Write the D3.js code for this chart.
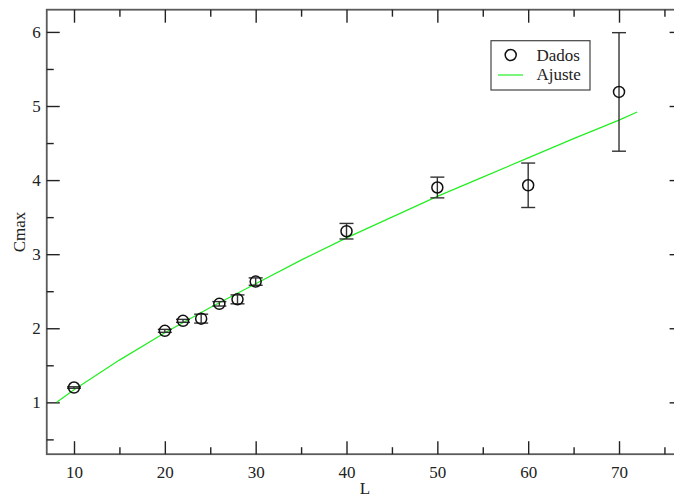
<!DOCTYPE html>
<html><head><meta charset="utf-8">
<script src="https://cdn.jsdelivr.net/npm/d3@7"></script>
<style>body{margin:0;background:#fff}svg{display:block}</style>
</head><body><svg id="c" width="674" height="497"></svg>
<script>
// Data
const L = [10, 20, 22, 24, 26, 28, 30, 40, 50, 60, 70];
const Cmax = [1.20, 1.965, 2.10, 2.13, 2.33, 2.39, 2.63, 3.31, 3.90, 3.93, 5.19];
const errCmax = [0.01, 0.02, 0.02, 0.06, 0.03, 0.06, 0.05, 0.105, 0.14, 0.30, 0.80];
const fitL = [8.1, 10, 15, 20, 25, 30, 35, 40, 45, 50, 55, 60, 65, 70, 72];
const fitC = [1.00, 1.17, 1.57, 1.94, 2.28, 2.60, 2.92, 3.22, 3.50, 3.78, 4.04, 4.30, 4.56, 4.81, 4.92];
const xMajor = [10, 20, 30, 40, 50, 60, 70];
const xMinor = [15, 25, 35, 45, 55, 65, 75];
const yMajor = [1, 2, 3, 4, 5, 6];
const yMinor = [0.5, 1.5, 2.5, 3.5, 4.5, 5.5];
const legendLabels = ["Dados", "Ajuste"];

const svg = d3.select("#c");
const x = d3.scaleLinear().domain([7, 77]).range([46.75, 682.6]);
const y = d3.scaleLinear().domain([0.3, 6.3]).range([454.2, 9.7]);
const X0 = x.range()[0], X1 = x.range()[1], Y0 = y.range()[0], Y1 = y.range()[1];
const axisCol = "#5a5a5a";
const FONT = "'Liberation Serif', 'Times New Roman', serif";
const FS = "17px";

svg.append("rect").attr("width", 674).attr("height", 497).attr("fill", "#fff");

// frame
svg.append("rect").attr("x", X0).attr("y", Y1).attr("width", X1 - X0).attr("height", Y0 - Y1)
  .attr("fill", "none").attr("stroke", axisCol).attr("stroke-width", 1.8);

const fmt = d3.format("d");
const gB = svg.append("g").attr("transform", `translate(0,${Y0})`)
  .call(d3.axisBottom(x).tickValues(xMajor).tickFormat(fmt).tickSizeInner(-13).tickSizeOuter(0).tickPadding(12));
const gBm = svg.append("g").attr("transform", `translate(0,${Y0})`)
  .call(d3.axisBottom(x).tickValues(xMinor).tickFormat("").tickSizeInner(-7).tickSizeOuter(0));
const gT = svg.append("g").attr("transform", `translate(0,${Y1})`)
  .call(d3.axisTop(x).tickValues(xMajor).tickFormat("").tickSizeInner(-13).tickSizeOuter(0));
const gTm = svg.append("g").attr("transform", `translate(0,${Y1})`)
  .call(d3.axisTop(x).tickValues(xMinor).tickFormat("").tickSizeInner(-7).tickSizeOuter(0));
const gL = svg.append("g").attr("transform", `translate(${X0},0)`)
  .call(d3.axisLeft(y).tickValues(yMajor).tickFormat(fmt).tickSizeInner(-13).tickSizeOuter(0).tickPadding(6));
const gLm = svg.append("g").attr("transform", `translate(${X0},0)`)
  .call(d3.axisLeft(y).tickValues(yMinor).tickFormat("").tickSizeInner(-7).tickSizeOuter(0));
const gR = svg.append("g").attr("transform", `translate(${X1},0)`)
  .call(d3.axisRight(y).tickValues(yMajor).tickFormat("").tickSizeInner(-13).tickSizeOuter(0));
const gRm = svg.append("g").attr("transform", `translate(${X1},0)`)
  .call(d3.axisRight(y).tickValues(yMinor).tickFormat("").tickSizeInner(-7).tickSizeOuter(0));

[gB, gBm, gT, gTm, gL, gLm, gR, gRm].forEach(g => {
  g.attr("font-family", FONT).attr("font-size", 17);
  g.select(".domain").remove();
  g.selectAll(".tick line").attr("stroke", "#222").attr("stroke-width", 1.4);
  g.selectAll("text").style("font-family", FONT).style("font-size", FS).attr("fill", "#222");
});

svg.append("text").attr("x", 365).attr("y", 494).attr("text-anchor", "middle")
  .style("font-family", FONT).style("font-size", FS).attr("fill", "#222").text("L");
svg.append("text").attr("transform", `translate(25,${(Y0 + Y1) / 2}) rotate(-90)`).attr("text-anchor", "middle")
  .style("font-family", FONT).style("font-size", FS).attr("fill", "#222").text("Cmax");

// fit line
const fitData = fitL.map((l, i) => [l, fitC[i]]);
svg.append("path").datum(fitData)
  .attr("d", d3.line().x(d => x(d[0])).y(d => y(d[1])))
  .attr("fill", "none").attr("stroke", "#22ee22").attr("stroke-width", 1.2);

// error bars & points
const pts = L.map((l, i) => ({ l, c: Cmax[i], e: errCmax[i] }));
const eb = svg.append("g").attr("stroke", "#333").attr("stroke-width", 1.4);
pts.forEach(p => {
  const cx = x(p.l), yt = y(p.c + p.e), yb = y(p.c - p.e);
  eb.append("line").attr("x1", cx).attr("x2", cx).attr("y1", yt).attr("y2", yb);
  eb.append("line").attr("x1", cx - 7).attr("x2", cx + 7).attr("y1", yt).attr("y2", yt);
  eb.append("line").attr("x1", cx - 7).attr("x2", cx + 7).attr("y1", yb).attr("y2", yb);
});
svg.append("g").selectAll("circle").data(pts).join("circle")
  .attr("cx", d => x(d.l)).attr("cy", d => y(d.c)).attr("r", 5.5)
  .attr("fill", "none").attr("stroke", "#111").attr("stroke-width", 1.5);

// legend
const lg = svg.append("g");
lg.append("rect").attr("x", 491).attr("y", 40.7).attr("width", 99).attr("height", 49.3)
  .attr("fill", "#fff").attr("stroke", "#444").attr("stroke-width", 1.2);
lg.append("circle").attr("cx", 510.7).attr("cy", 55).attr("r", 5.5)
  .attr("fill", "none").attr("stroke", "#111").attr("stroke-width", 1.5);
lg.append("line").attr("x1", 498).attr("x2", 523).attr("y1", 75).attr("y2", 75)
  .attr("stroke", "#22ee22").attr("stroke-width", 1.2);
lg.selectAll("text.lab").data(legendLabels).join("text").attr("class", "lab")
  .attr("x", 536.5).attr("y", (d, i) => 60.5 + i * 19)
  .style("font-family", FONT).style("font-size", FS).attr("fill", "#222").text(d => d);
</script></body></html>
